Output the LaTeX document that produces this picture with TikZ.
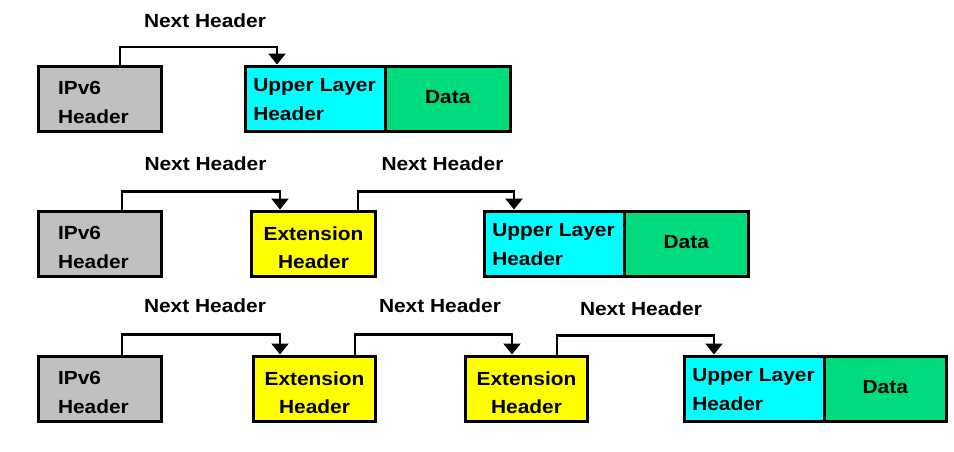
\documentclass[tikz,border=0pt]{standalone}
\usepackage{fontspec}
\newfontfamily\nh{Liberation Sans}[FakeStretch=1.1]
\usetikzlibrary{arrows.meta}
\definecolor{ipgray}{RGB}{192,192,192}
\definecolor{ulcyan}{RGB}{0,255,255}
\definecolor{datagreen}{RGB}{0,220,125}
\definecolor{extyellow}{RGB}{255,255,0}
\tikzset{
  txt/.style={font=\nh\bfseries\fontsize{19}{29}\selectfont},
  box/.style={txt, draw=black, line width=3pt, minimum height=65pt,
    inner sep=0pt, outer sep=0pt},
  ipbox/.style={box, fill=ipgray, align=left, text width=84pt, inner xsep=19.5pt,
    minimum width=123pt, text height=21pt},
  ulbox/.style={box, fill=ulcyan, align=left, text width=124pt, inner xsep=7.75pt,
    minimum width=139.5pt, text height=16pt},
  databox/.style={box, fill=datagreen, anchor=west, text depth=4pt},
  extbox/.style={box, fill=extyellow, align=center, text width=104pt, text height=23pt,
    font=\nh\bfseries\fontsize{19}{28}\selectfont},
  conn/.style={line width=2.5pt, -{Triangle[width=17pt,length=11pt]}, shorten >=1.5pt},
  lbl/.style={txt, inner sep=0pt}
}
\begin{document}
\begin{tikzpicture}[x=1pt,y=-1pt]
\useasboundingbox (0,0) rectangle (954,451);
% Row 1
\node[ipbox] (i1) at (100,98.5) {IPv6\\Header};
\node[ulbox] (u1) at (315.25,98.5) {Upper Layer\\Header};
\node[databox, minimum width=125.5pt] (d1) at (u1.east) {Data};
\node[lbl] (l1) at (205,20.5) {Next Header};
\draw[conn] ([xshift=81.5pt]i1.north west) -- ++(0,-18.8) -| ([xshift=31.5pt]u1.north west);
% Row 2
\node[ipbox] (i2) at (100,243.5) {IPv6\\Header};
\node[extbox, minimum width=124pt] (e2) at (313.5,243.5) {Extension\\Header};
\node[ulbox] (u2) at (554.25,243.5) {Upper Layer\\Header};
\node[databox, minimum width=124.5pt] (d2) at (u2.east) {Data};
\node[lbl] (l2) at (205.5,164) {Next Header};
\node[lbl] (l3) at (442.5,164) {Next Header};
\draw[conn] ([xshift=83.5pt]i2.north west) -- ++(0,-19.5) -| ([xshift=28.5pt]e2.north west);
\draw[conn] ([xshift=106.5pt]e2.north west) -- ++(0,-19.5) -| ([xshift=29.5pt]u2.north west);
% Row 3
\node[ipbox] (i3) at (100,388.5) {IPv6\\Header};
\node[extbox, minimum width=122pt] (e3) at (314.5,388.5) {Extension\\Header};
\node[extbox, minimum width=122pt] (e4) at (526.5,388.5) {Extension\\Header};
\node[ulbox] (u3) at (754.25,388.5) {Upper Layer\\Header};
\node[databox, minimum width=122.5pt] (d3) at (u3.east) {Data};
\node[lbl] (l4) at (205,306) {Next Header};
\node[lbl] (l5) at (440,306) {Next Header};
\node[lbl] (l6) at (641,309) {Next Header};
\draw[conn] ([xshift=83.5pt]i3.north west) -- ++(0,-21.5) -| ([xshift=26.5pt]e3.north west);
\draw[conn] ([xshift=101.5pt]e3.north west) -- ++(0,-21.5) -| ([xshift=46.5pt]e4.north west);
\draw[conn] ([xshift=91.5pt]e4.north west) -- ++(0,-20.5) -| ([xshift=29.5pt]u3.north west);
\end{tikzpicture}
\end{document}
